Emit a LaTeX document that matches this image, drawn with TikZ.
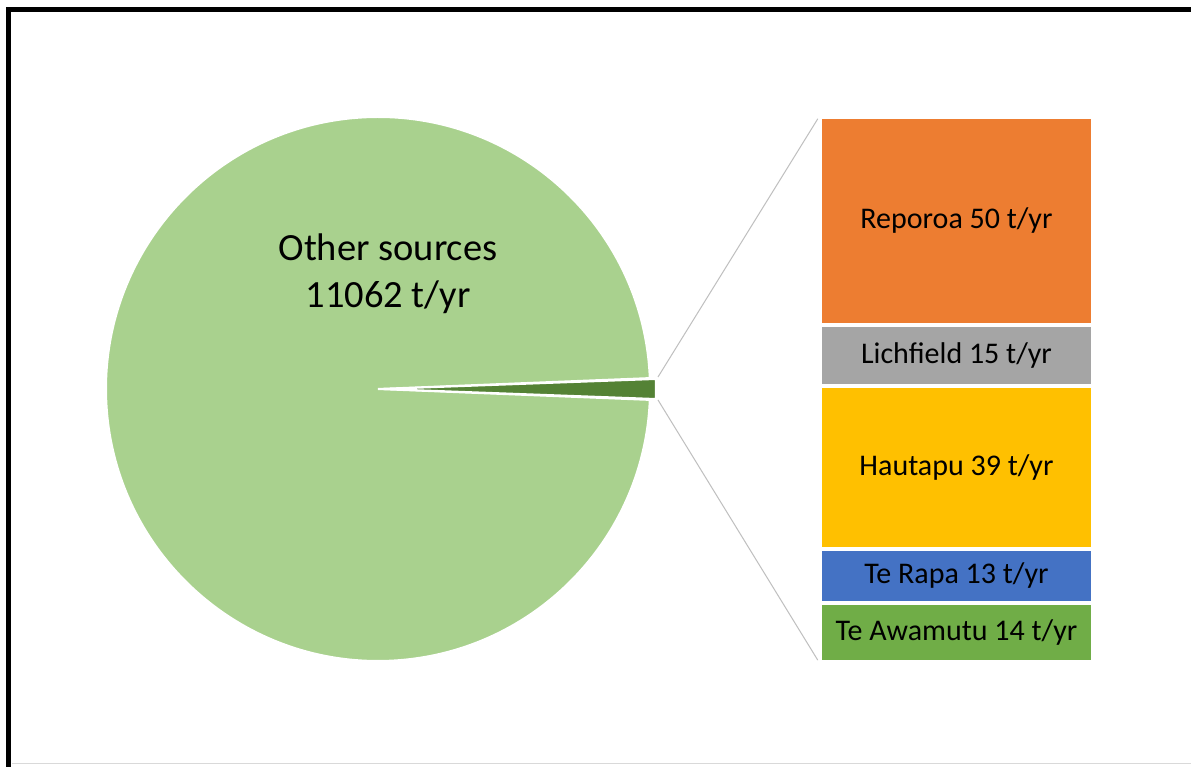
\documentclass[tikz,border=0pt]{standalone}
\usepackage{fontspec}
\setmainfont{Carlito}
\usetikzlibrary{calc}
\definecolor{pielight}{HTML}{A9D18E}
\definecolor{piedark}{HTML}{548235}
\definecolor{corange}{HTML}{ED7D31}
\definecolor{cgray}{HTML}{A5A5A5}
\definecolor{cgold}{HTML}{FFC000}
\definecolor{cblue}{HTML}{4472C4}
\definecolor{cgreen}{HTML}{70AD47}
\definecolor{conngray}{HTML}{BFBFBF}
\tikzset{
  bar/.style={rectangle, inner sep=0pt, minimum width=269pt, text=black, font=\fontsize{30}{35}\selectfont},
  conn/.style={draw=conngray, line width=1pt},
  slice/.style={draw=white, line width=2pt}
}
\begin{document}
\begin{tikzpicture}[x=1pt,y=1pt]
\useasboundingbox (0,0) rectangle (1191,767);
\fill[white] (0,0) rectangle (1191,767);
\begin{scope}
\clip (0,0) rectangle (1191,767);
\draw[line width=5pt] (8,-20) -- (8,757) -- (1210,757);
\end{scope}
\draw[gray!30, line width=1pt] (12,3) -- (1191,3);
% pie
\coordinate (c) at (378,378);
\fill[pielight, slice] (c) -- ++(2.3:272) arc[start angle=2.3, end angle=357.7, radius=272] -- cycle;
\coordinate (c2) at (383,378);
\fill[piedark, slice] (c2) -- ++(-2.1:273) arc[start angle=-2.1, end angle=2.1, radius=273] -- cycle;
\node[align=center, text=black, font=\fontsize{38.5}{47}\selectfont] (other) at (388,493) {Other sources\\11062 t/yr};
% bars
\node[bar, fill=corange, minimum height=204pt] (rep) at (956.5,546) {Reporoa 50 t/yr};
\node[bar, fill=cgray, minimum height=57pt] (lich) at (956.5,411.5) {Lichfield 15 t/yr};
\node[bar, fill=cgold, minimum height=159pt] (haut) at (956.5,299.5) {Hautapu 39 t/yr};
\node[bar, fill=cblue, minimum height=50pt] (rapa) at (956.5,191) {Te Rapa 13 t/yr};
\node[bar, fill=cgreen, minimum height=55pt] (awa) at (956.5,134.5) {Te Awamutu 14 t/yr};
% connectors
\coordinate (wtop) at (658,390);
\coordinate (wbot) at (658,367);
\draw[conn] (wtop) -- ([xshift=-4pt]rep.north west);
\draw[conn] (wbot) -- ([xshift=-4pt]awa.south west);
\end{tikzpicture}
\end{document}
